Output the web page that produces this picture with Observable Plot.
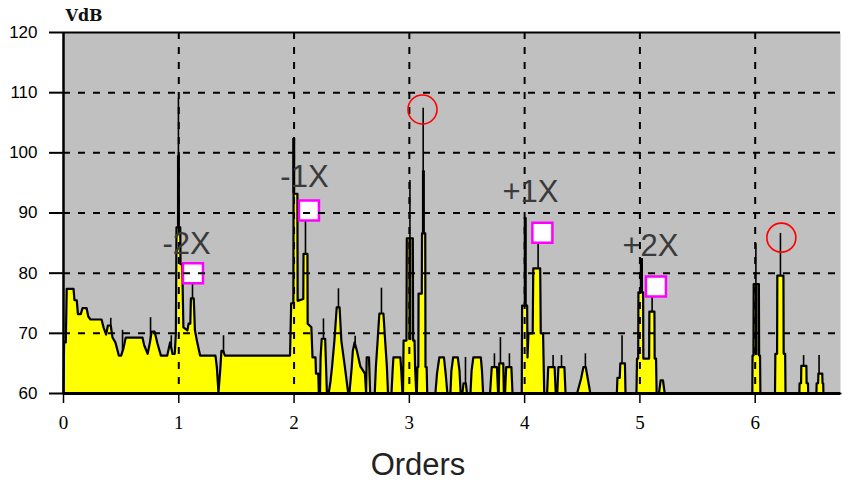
<!DOCTYPE html>
<html><head><meta charset="utf-8">
<script src="https://cdn.jsdelivr.net/npm/d3@7"></script>
<script src="https://cdn.jsdelivr.net/npm/@observablehq/plot@0.6"></script>
<style>body{margin:0;background:#fff}</style>
</head><body><div id="chart"></div>
<script>
// Spectrum (average trace, yellow fill) vertices: order, VdB
const fillOrders = [0.000,0.005,0.020,0.028,0.087,0.095,0.115,0.125,0.150,0.165,0.200,0.215,0.234,0.330,0.347,0.370,0.385,0.410,0.425,0.450,0.480,0.500,0.520,0.540,0.685,0.700,0.730,0.750,0.765,0.790,0.815,0.845,0.900,0.925,0.945,0.965,0.975,0.980,1.013,1.015,1.030,1.040,1.075,1.085,1.100,1.105,1.130,1.140,1.160,1.185,1.318,1.330,1.344,1.360,1.370,1.385,1.400,1.965,1.975,1.994,1.996,2.029,2.031,2.080,2.082,2.116,2.118,2.150,2.160,2.186,2.190,2.210,2.215,2.225,2.230,2.240,2.270,2.275,2.285,2.300,2.316,2.330,2.350,2.370,2.395,2.410,2.440,2.470,2.480,2.500,2.510,2.525,2.545,2.575,2.615,2.625,2.630,2.650,2.660,2.700,2.710,2.725,2.740,2.775,2.790,2.805,2.815,2.845,2.855,2.862,2.922,2.930,2.940,2.945,2.950,2.975,2.978,3.030,3.033,3.045,3.050,3.060,3.065,3.070,3.078,3.080,3.108,3.110,3.138,3.140,3.150,3.155,3.226,3.240,3.260,3.300,3.315,3.330,3.356,3.365,3.380,3.420,3.435,3.445,3.460,3.470,3.490,3.500,3.530,3.540,3.555,3.620,3.630,3.640,3.700,3.715,3.760,3.770,3.775,3.780,3.815,3.820,3.830,3.840,3.885,3.895,3.975,3.978,4.022,4.025,4.033,4.070,4.075,4.135,4.140,4.160,4.170,4.195,4.205,4.260,4.270,4.283,4.293,4.345,4.355,4.455,4.490,4.510,4.530,4.570,4.800,4.805,4.825,4.830,4.870,4.875,4.970,4.975,4.985,4.987,5.028,5.030,5.080,5.082,5.126,5.128,5.140,5.145,5.165,5.180,5.200,5.215,5.975,5.977,5.985,5.987,6.032,6.034,6.042,6.045,6.172,6.175,6.190,6.192,6.245,6.247,6.260,6.263,6.383,6.385,6.398,6.400,6.444,6.446,6.458,6.460,6.531,6.533,6.546,6.548,6.582,6.584,6.590,6.592,6.740];
const fillDb = [60,68.5,68.5,77.4,77.4,75.5,75.5,73.2,73.2,74.2,74.2,72.8,72.3,72.3,71.0,69.8,71.3,71.3,69.3,68.5,66.3,66.3,67.5,69.3,69.3,68.0,66.6,68.5,70.3,70.3,68.3,66.3,66.3,68.5,66.6,66.6,70.0,87.6,87.6,81.5,81.5,71.0,70.5,71.6,71.6,75.8,75.8,70.5,68.5,66.3,66.3,64.4,60.2,64.0,67.1,67.1,66.3,66.3,75.0,75.0,93.2,93.2,75.4,75.7,83.2,83.2,71.6,71.0,66.0,66.0,63.3,63.3,60,60,66.0,69.1,69.1,66.0,60,60,62.0,64.5,68.8,74.3,74.3,68.8,64.5,60,60,64.3,67.1,68.5,67.1,64.5,63.3,60,66.0,66.0,60,60,64.5,68.8,73.3,73.3,68.8,64.5,60,60,63.8,66.0,66.0,63.8,60,60,68.8,68.8,85.8,85.8,68.8,68.8,64.3,60,60,64.4,64.4,76.6,76.6,86.6,86.6,64.4,64.4,60,60,63.3,66.0,66.0,63.3,60,60,63.8,66.0,66.0,63.8,60,60,61.7,61.7,60,60,63.8,66.0,66.0,63.8,60,60,64.4,64.4,60,60,65.0,65.0,60,60,64.4,64.4,60,60,74.6,74.6,66.0,70.0,70.0,80.8,80.8,70.0,70.0,60,60,64.4,64.4,60,60,64.4,64.4,60,60,62.5,64.4,64.4,60,60,62.6,62.6,65.0,65.0,60,60,65.8,65.8,76.8,76.8,65.8,65.8,73.6,73.6,65.8,65.8,60,60,62.2,62.2,60,60,66.3,66.3,78.2,78.2,66.3,66.3,60,60,66.6,66.6,79.6,79.6,66.6,66.6,60,60,61.7,61.7,64.6,64.6,61.7,61.7,60,60,61.7,61.7,63.3,63.3,61.7,61.7,60,60];

// Peak-hold spikes (thin black lines)
const spikeOrders = [0.41,0.512,0.755,0.935,0.997,1.119,1.388,1.997,2.099,2.255,2.385,2.53,2.758,3.005,3.12,3.487,3.738,3.79,3.868,4.007,4.117,4.247,4.32,4.527,4.845,5.019,5.106,6.006,6.219,6.42,6.554];
const spikeDb = [72.5,70.5,72.6,69.6,109,78.3,69.6,102.4,88.7,72.4,77.4,69.5,77.5,95.4,107.4,66,66.6,69.3,66.6,89.2,85.1,66.3,66.3,66.6,69.6,82.4,76,84.9,86.6,66.3,66.3];

// Heavy parts of the peak-hold trace
const heavyOrders = [0.997,1.997,3.005,3.122,4.005,5.012,6.008];
const heavyLow = [87.6,93.2,68.8,86.6,74.6,76.8,66.3];
const heavyHigh = [99.5,102.4,85.8,97,89.2,82.4,78.2];

// Annotations
const labelText = ["-2X","-1X","+1X","+2X"];
const labelOrders = [1.067,2.090,4.050,5.091];
const labelDb = [84.85,95.98,93.49,84.51];
const markerOrders = [1.123,2.129,4.154,5.139];
const markerDb = [80.0,90.4,86.7,77.8];
const circleOrders = [3.114,6.227];
const circleDb = [107.2,85.9];

const xTicks = [0,1,2,3,4,5,6];
const yTicks = [60,70,80,90,100,110,120];
const gridX = [1,2,3,4,5,6];
const gridY = [70,80,90,100,110];

const spectrum = fillOrders.map((x,i)=>({x, y: fillDb[i]}));
const idx = a => a.map((_,i)=>i);

const plot = Plot.plot({
  width: 852, height: 484,
  marginLeft: 63, marginRight: 12, marginTop: 32, marginBottom: 91,
  x: {domain: [0, 6.74]},
  y: {domain: [60, 120]},
  style: {background: "white", overflow: "visible"},
  marks: [
    Plot.frame({fill: "#c0c0c0", stroke: "none"}),
    Plot.ruleX(idx(spikeOrders), {x: i=>spikeOrders[i], y1: 60, y2: i=>spikeDb[i], stroke: "black", strokeWidth: 1.6}),
    Plot.areaY(spectrum, {x: "x", y1: 60, y2: "y", fill: "#ffff00", curve: "linear"}),
    Plot.line(spectrum, {x: "x", y: "y", stroke: "black", strokeWidth: 2.2, curve: "linear"}),
    Plot.ruleX(idx(heavyOrders), {x: i=>heavyOrders[i], y1: i=>heavyLow[i], y2: i=>heavyHigh[i], stroke: "black", strokeWidth: 3}),
    Plot.dot(idx(markerOrders), {x: i=>markerOrders[i], y: i=>markerDb[i], symbol: "square", r: 11.3, fill: "white", stroke: "#ff00ff", strokeWidth: 2.5}),
    Plot.ruleY(gridY, {stroke: "black", strokeWidth: 2, strokeDasharray: "7,8"}),
    Plot.ruleX(gridX, {stroke: "black", strokeWidth: 2, strokeDasharray: "7,8"}),
    Plot.ruleX([0], {stroke: "black", strokeWidth: 2.5}),
    Plot.ruleY([60], {stroke: "black", strokeWidth: 3}),
    Plot.ruleY([120], {stroke: "black", strokeWidth: 2}),
    Plot.axisY({ticks: yTicks, tickSize: 14, tickPadding: 12, fontSize: 17, fontFamily: "Liberation Sans", label: null, color: "black", strokeWidth: 2}),
    Plot.axisX({ticks: xTicks, tickSize: 10, tickPadding: 12, fontSize: 19, fontFamily: "Liberation Serif", label: null, color: "black", strokeWidth: 1.5, tickFormat: d=>String(d)}),
    Plot.text(idx(labelText), {x: i=>labelOrders[i], y: i=>labelDb[i], text: i=>labelText[i], fontSize: 31, fontFamily: "Liberation Sans", fill: "#3a3a3a", textAnchor: "middle", lineAnchor: "middle"}),
    Plot.dot(idx(circleOrders), {x: i=>circleOrders[i], y: i=>circleDb[i], r: 14.5, fill: "none", stroke: "#ff0000", strokeWidth: 1.6}),
    Plot.text(["Orders"], {text: d=>d, frameAnchor: "bottom", dx: -34, dy: 72, fontSize: 31, fontFamily: "Liberation Sans", fill: "#222", textAnchor: "middle", lineAnchor: "middle"}),
    Plot.text(["VdB"], {text: d=>d, frameAnchor: "top-left", dx: 2, dy: -17, fontSize: 16, fontWeight: "bold", fontFamily: "DejaVu Serif", fill: "#111", textAnchor: "start", lineAnchor: "middle"})
  ]
});
document.getElementById("chart").appendChild(plot);
</script>
</body></html>
